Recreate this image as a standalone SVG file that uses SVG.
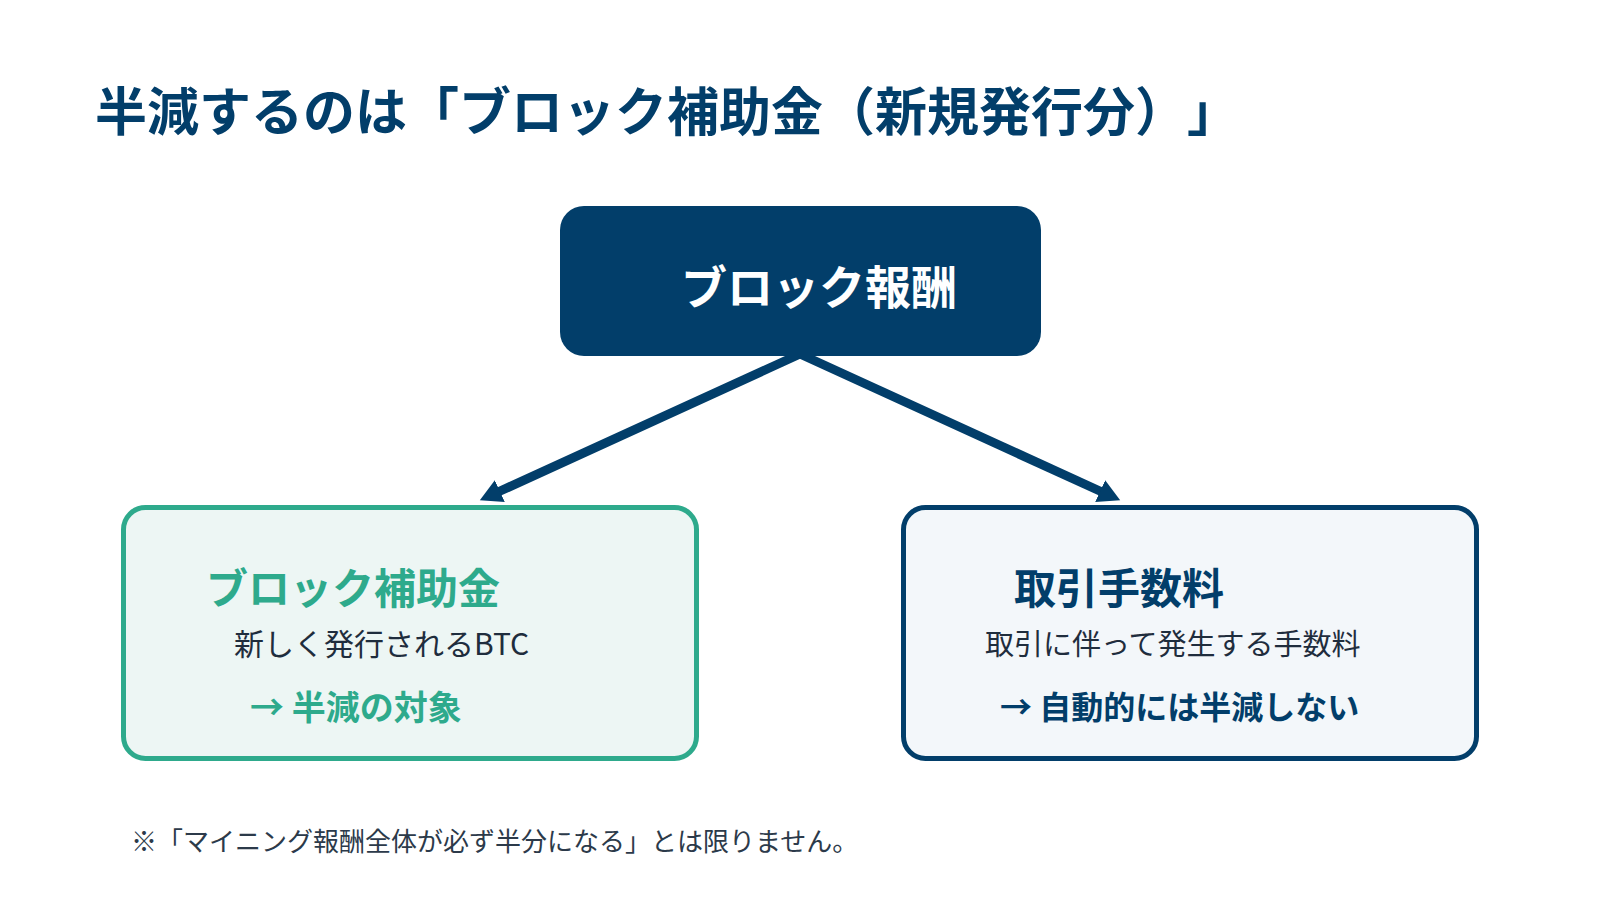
<svg xmlns="http://www.w3.org/2000/svg" width="1600" height="900" viewBox="0 0 1600 900">
  <style>
    .jp { font-family: "Noto Sans CJK JP", "Noto Sans", sans-serif; text-spacing-trim: space-all; }
    .b { font-weight: 700; }
    .navy { fill: #023e6a; }
    .teal { fill: #2eaa8c; }
    .dark { fill: #1f2d3d; }
    .conn { stroke: #023e6a; stroke-width: 9; fill: none; }
  </style>
  <defs>
    <marker id="arrow" markerUnits="userSpaceOnUse" markerWidth="26" markerHeight="26" refX="2" refY="13" orient="auto">
      <path d="M0,1 L22,13 L0,25 z" fill="#023e6a"/>
    </marker>
  </defs>
  <rect width="1600" height="900" fill="#ffffff"/>

  <g id="title">
    <text class="jp b navy" x="95" y="131" font-size="52">半減するのは「ブロック補助金（新規発行分）」</text>
  </g>

  <g id="connectors">
    <line class="conn" x1="800" y1="354" x2="498" y2="492" marker-end="url(#arrow)"/>
    <line class="conn" x1="800" y1="354" x2="1102" y2="492" marker-end="url(#arrow)"/>
  </g>

  <g id="node-reward">
    <rect x="560" y="206" width="481" height="150" rx="24" fill="#023e6a"/>
    <text class="jp b" x="681" y="304" font-size="46" fill="#ffffff">ブロック報酬</text>
  </g>

  <g id="node-subsidy">
    <rect x="123.5" y="507.5" width="573" height="251" rx="22" fill="#edf6f4" stroke="#2eaa8c" stroke-width="5"/>
    <text class="jp b teal" x="206" y="604" font-size="42">ブロック補助金</text>
    <text class="jp dark" x="234" y="655" font-size="30">新しく発行されるBTC</text>
    <text class="jp b teal" x="250" y="720" font-size="34">→ 半減の対象</text>
  </g>

  <g id="node-fee">
    <rect x="903.5" y="507.5" width="573" height="251" rx="22" fill="#f3f7fa" stroke="#023e6a" stroke-width="5"/>
    <text class="jp b navy" x="1014" y="604" font-size="42">取引手数料</text>
    <text class="jp dark" x="985" y="655" font-size="29">取引に伴って発生する手数料</text>
    <text class="jp b navy" x="1000" y="719" font-size="32">→ 自動的には半減しない</text>
  </g>

  <g id="footnote">
    <text class="jp" x="131" y="851" font-size="26" fill="#2c3a4a">※「マイニング報酬全体が必ず半分になる」とは限りません。</text>
  </g>
</svg>
